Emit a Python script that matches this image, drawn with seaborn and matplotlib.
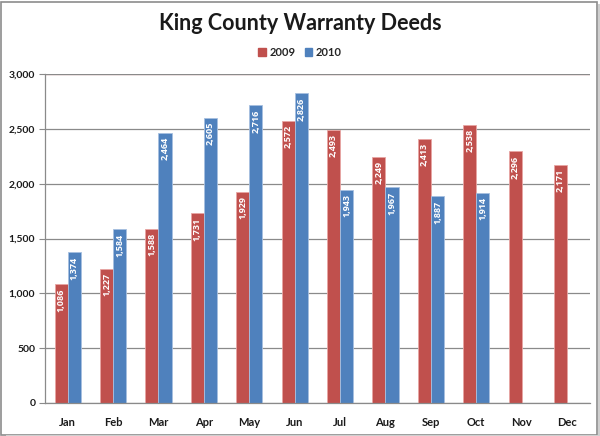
import pandas as pd
import numpy as np
import matplotlib
matplotlib.use('Agg')
import matplotlib.pyplot as plt
import seaborn as sns
from matplotlib.patches import Rectangle
from matplotlib.ticker import FuncFormatter, MultipleLocator

months = ['Jan', 'Feb', 'Mar', 'Apr', 'May', 'Jun', 'Jul', 'Aug', 'Sep', 'Oct', 'Nov', 'Dec']
deeds_2009 = [1086, 1227, 1588, 1731, 1929, 2572, 2493, 2249, 2413, 2538, 2296, 2171]
deeds_2010 = [1374, 1584, 2464, 2605, 2716, 2826, 1943, 1967, 1887, 1914, np.nan, np.nan]
years = ['2009', '2010']

df = pd.DataFrame({
    'Month': months * 2,
    'Deeds': deeds_2009 + deeds_2010,
    'Year': [years[0]] * 12 + [years[1]] * 12,
})

sns.set_style('white')
plt.rcParams['font.family'] = ['Lato', 'DejaVu Sans']

fig = plt.figure(figsize=(6, 4.36), dpi=100)
ax = fig.add_axes([0.075, 0.0757, 0.908, 0.754])

# frame around the whole picture, with a light shadow on right/bottom
fig.patches.append(Rectangle((0.002, 0.003), 0.993, 0.993, transform=fig.transFigure,
                             fill=False, edgecolor='#8c8c8c', lw=1.2))
fig.patches.append(Rectangle((0.996, 0.0), 0.004, 0.99, transform=fig.transFigure,
                             color='#cfcfcf', lw=0))
fig.patches.append(Rectangle((0.01, 0.0), 0.99, 0.003, transform=fig.transFigure,
                             color='#cfcfcf', lw=0))

sns.barplot(data=df, x='Month', y='Deeds', hue='Year', order=months,
            palette={'2009': '#C0504D', '2010': '#4F81BD'},
            width=0.58, ax=ax, legend=False, saturation=1)

for patch in ax.patches:
    patch.set_edgecolor('#e8a5a3' if patch.get_facecolor()[0] > 0.6 else '#a7c0e0')
    patch.set_linewidth(0.6)

# value labels inside the top of each bar
for cont in ax.containers:
    for bar, val in zip(cont, cont.datavalues):
        if np.isnan(val):
            continue
        ax.annotate(f'{int(val):,}', (bar.get_x() + bar.get_width() / 2, bar.get_height()),
                    xytext=(0, -3), textcoords='offset points', rotation=90,
                    ha='center', va='top', color='white', fontsize=6.5,
                    fontweight='bold', family='Open Sans')

ax.set_ylim(0, 3000)
ax.set_xlim(-0.5, 11.5)
ax.yaxis.set_major_locator(MultipleLocator(500))
ax.yaxis.set_major_formatter(FuncFormatter(lambda v, p: f'{int(v):,}'))
ax.grid(axis='y', color='#8a8a8a', lw=0.9)
ax.set_axisbelow(True)
ax.axhline(3000, color='#dba3a3', lw=1, zorder=0.5)

for s in ['top', 'right']:
    ax.spines[s].set_visible(False)
for s in ['left', 'bottom']:
    ax.spines[s].set_color('#8a8a8a')
    ax.spines[s].set_linewidth(0.9)

ax.set_xticks(np.arange(-0.5, 12, 1), minor=True)
ax.tick_params(axis='x', which='major', length=0, labelsize=8, pad=10)
ax.tick_params(axis='x', which='minor', length=4, color='#8a8a8a', direction='out')
ax.tick_params(axis='y', length=4, color='#8a8a8a', direction='out', labelsize=7.5, left=True, pad=3)
for lbl in ax.get_xticklabels() + ax.get_yticklabels():
    lbl.set_fontweight('bold')
    lbl.set_color('#1a1a1a')

ax.set_xlabel('')
ax.set_ylabel('')

fig.text(0.5, 0.945, 'King County Warranty Deeds', ha='center', va='center',
         fontsize=15.5, fontweight='bold', color='#1a1a1a')

handles = [Rectangle((0, 0), 1, 1, color='#C0504D'), Rectangle((0, 0), 1, 1, color='#4F81BD')]
fig.legend(handles, years, loc='center', bbox_to_anchor=(0.5, 0.88), ncol=2, frameon=False,
           prop={'weight': 'bold', 'size': 8}, handlelength=0.7, handleheight=0.7,
           handletextpad=0.3, columnspacing=0.8)

fig.savefig('out.png', dpi=100)
